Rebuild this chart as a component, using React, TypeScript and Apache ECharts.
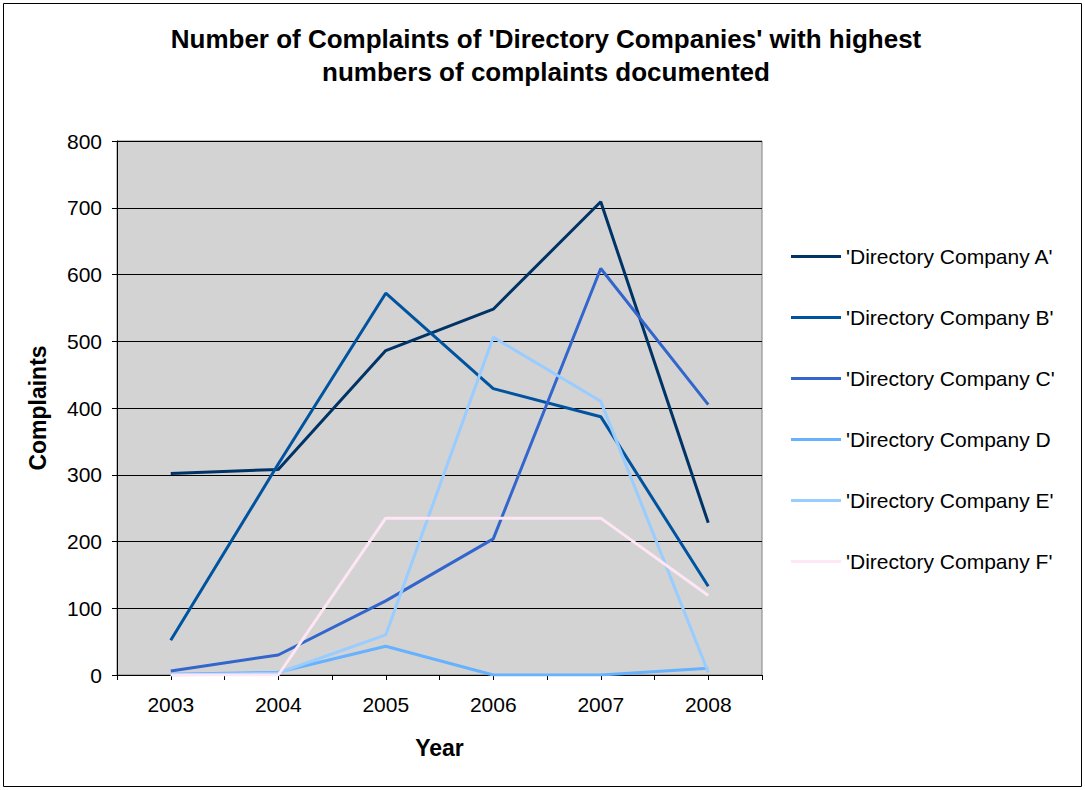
import React, { useEffect, useRef } from "react";
import * as echarts from "echarts";

const years = ["2003", "2004", "2005", "2006", "2007", "2008"];
const seriesNames = [
  "'Directory Company A'",
  "'Directory Company B'",
  "'Directory Company C'",
  "'Directory Company D",
  "'Directory Company E'",
  "'Directory Company F'",
];
const companyA = [302, 308, 486, 548, 709, 228];
const companyB = [52, 316, 572, 429, 387, 133];
const companyC = [6, 30, 111, 204, 609, 405];
const companyD = [1, 4, 43, 0, 0, 10];
const companyE = [0, 3, 60, 506, 410, 4];
const companyF = [0, 0, 235, 235, 235, 119];
const seriesColors = ["#003366", "#00539E", "#3366CC", "#66B2FF", "#99CCFF", "#FFE6F5"];
const yTicks = { min: 0, max: 800, interval: 100 };

export default function App() {
  const ref = useRef<HTMLDivElement>(null);
  useEffect(() => {
    if (!ref.current) return;
    const chart = echarts.init(ref.current, undefined, { renderer: "svg" });
    const allData = [companyA, companyB, companyC, companyD, companyE, companyF];
    const font = "Liberation Sans, Arial, sans-serif";
    chart.setOption({
      animation: false,
      backgroundColor: "#ffffff",
      textStyle: { fontFamily: font },
      title: {
        text: "Number of Complaints of 'Directory Companies' with highest\nnumbers of complaints documented",
        left: 546,
        textAlign: "center",
        top: 22,
        padding: 0,
        textStyle: {
          fontFamily: font,
          fontSize: 26,
          fontWeight: "bold",
          color: "#000",
          lineHeight: 33,
        },
      },
      graphic: [
        {
          type: "rect",
          shape: { x: 3.5, y: 3.5, width: 1078, height: 783 },
          style: { fill: "none", stroke: "#000", lineWidth: 1 },
          silent: true,
          z: 100,
        },
      ],
      legend: {
        orient: "vertical",
        left: 791,
        top: 246,
        padding: 0,
        itemWidth: 50,
        itemHeight: 3,
        itemGap: 40,
        icon: "rect",
        textStyle: { fontFamily: font, fontSize: 21, color: "#000" },
        data: seriesNames,
      },
      grid: {
        left: 117,
        right: 323,
        top: 141,
        bottom: 115,
        show: true,
        backgroundColor: "#D3D3D3",
        borderColor: "#808080",
        borderWidth: 1,
      },
      xAxis: [
        {
          type: "category",
          data: years,
          boundaryGap: true,
          name: "Year",
          nameLocation: "middle",
          nameGap: 61,
          nameTextStyle: { fontFamily: font, fontSize: 23, fontWeight: "bold", color: "#000" },
          axisLine: { show: true, lineStyle: { color: "#000", width: 1 } },
          axisTick: { show: true, length: 5, lineStyle: { color: "#000" } },
          axisLabel: { margin: 19, fontFamily: font, fontSize: 21, color: "#000" },
          splitLine: { show: false },
        },
        {
          type: "category",
          data: years,
          boundaryGap: true,
          position: "bottom",
          axisLine: { show: false },
          axisTick: { show: true, length: 5, alignWithLabel: true, lineStyle: { color: "#000" } },
          axisLabel: { show: false },
          splitLine: { show: false },
        },
      ],
      yAxis: {
        type: "value",
        min: yTicks.min,
        max: yTicks.max,
        interval: yTicks.interval,
        name: "Complaints",
        nameLocation: "middle",
        nameGap: 68,
        nameTextStyle: { fontFamily: font, fontSize: 23, fontWeight: "bold", color: "#000" },
        axisLine: { show: true, lineStyle: { color: "#000", width: 1 } },
        axisTick: { show: true, length: 5, lineStyle: { color: "#000" } },
        axisLabel: { margin: 15, fontFamily: font, fontSize: 21, color: "#000" },
        splitLine: { show: true, lineStyle: { color: "#000", width: 1 } },
      },
      series: seriesNames.map((name, i) => ({
        name,
        type: "line",
        data: allData[i],
        showSymbol: false,
        symbol: "none",
        color: seriesColors[i],
        lineStyle: { color: seriesColors[i], width: 3 },
        itemStyle: { color: seriesColors[i] },
      })),
    });
    return () => chart.dispose();
  }, []);
  return (
    <div
      ref={ref}
      style={{ position: "fixed", left: 0, top: 0, width: 1085, height: 790 }}
    />
  );
}
